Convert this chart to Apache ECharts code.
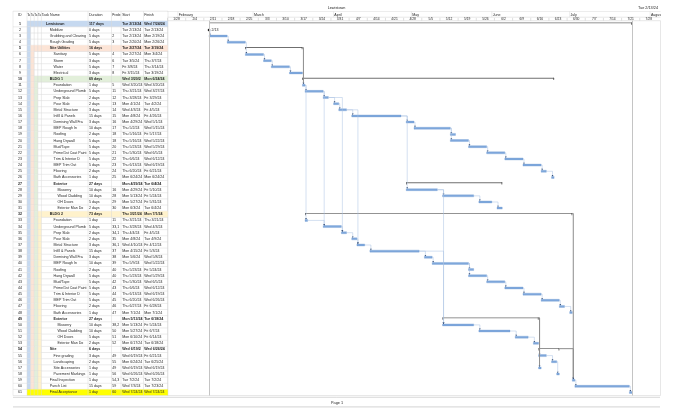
<!DOCTYPE html>
<html><head><meta charset="utf-8">
<script src="https://cdn.jsdelivr.net/npm/echarts@6/dist/echarts.min.js"></script>
<style>html,body{margin:0;padding:0;background:#fff}#c{width:680px;height:420px}</style>
</head><body><div id="c"></div>
<script>
// ---------------- DATA ----------------
const taskNames = ['Lewistown','Mobilize','Grubbing and Clearing','Rough Grading','Site Utilities','Sanitary','Storm','Water','Electrical','BLDG 1',
'Foundation','Underground Plumbing','Prep Slab','Pour Slab','Metal Structure','Infill & Panels','Demising Wall Frame','MEP Rough In','Roofing','Hang Drywall',
'Mud/Tape','Prime/1st Coat Paint','Trim & Interior Doors','MEP Trim Out','Flooring','Bath Accessories','Exterior','Masonry','Wood Cladding','OH Doors',
'Exterior Man Doors','BLDG 2','Foundation','Underground Plumbing','Prep Slab','Pour Slab','Metal Structure','Infill & Panels','Demising Wall Frame','MEP Rough In',
'Roofing','Hang Drywall','Mud/Tape','Prime/1st Coat Paint','Trim & Interior Doors','MEP Trim Out','Flooring','Bath Accessories','Exterior','Masonry',
'Wood Cladding','OH Doors','Exterior Man Doors','Site','Fine grading','Landscaping','Site Accessories & Signage','Pavement Markings','Final Inspection','Punch List',
'Final Acceptance'];
const durations = ['117 days','0 days','5 days','5 days','16 days','5 days','3 days','5 days','3 days','69 days',
'1 day','5 days','2 days','2 days','3 days','15 days','3 days','10 days','2 days','5 days',
'5 days','5 days','5 days','5 days','2 days','1 day','27 days','10 days','10 days','5 days',
'2 days','73 days','1 day','5 days','2 days','2 days','3 days','15 days','3 days','10 days',
'2 days','5 days','5 days','5 days','5 days','5 days','2 days','1 day','27 days','10 days',
'10 days','5 days','2 days','6 days','3 days','2 days','1 day','1 day','1 day','15 days',
'1 day'];
const predecessors = ['','','2','3','','4','6','7','8','',
'5','11','12','13','14','15','16','17','18','18',
'20','21','22','23','24','25','','16','28','29',
'30','','11','33,12','34,13','35','36,15','37','38','39',
'40','40','42','43','44','45','46','47','','38,28',
'50','51','52','','49','55','49','56','54,32','59',
'60'];
const startDates = ['Tue 2/13/24','Tue 2/13/24','Tue 2/13/24','Tue 2/20/24','Tue 2/27/24','Tue 2/27/24','Tue 3/5/24','Fri 3/8/24','Fri 3/15/24','Wed 3/20/24',
'Wed 3/20/24','Thu 3/21/24','Thu 3/28/24','Mon 4/1/24','Wed 4/3/24','Mon 4/8/24','Mon 4/29/24','Thu 5/2/24','Thu 5/16/24','Thu 5/16/24',
'Thu 5/23/24','Thu 5/30/24','Thu 6/6/24','Thu 6/13/24','Thu 6/20/24','Mon 6/24/24','Mon 4/29/24','Mon 4/29/24','Mon 5/13/24','Mon 5/27/24',
'Mon 6/3/24','Thu 3/21/24','Thu 3/21/24','Thu 3/28/24','Thu 4/4/24','Mon 4/8/24','Wed 4/10/24','Mon 4/15/24','Mon 5/6/24','Thu 5/9/24',
'Thu 5/23/24','Thu 5/23/24','Thu 5/30/24','Thu 6/6/24','Thu 6/13/24','Thu 6/20/24','Thu 6/27/24','Mon 7/1/24','Mon 5/13/24','Mon 5/13/24',
'Mon 5/27/24','Mon 6/10/24','Mon 6/17/24','Wed 6/19/24','Wed 6/19/24','Mon 6/24/24','Wed 6/19/24','Wed 6/26/24','Tue 7/2/24','Wed 7/3/24',
'Wed 7/24/24'];
const finishDates = ['Wed 7/24/24','Tue 2/13/24','Mon 2/19/24','Mon 2/26/24','Tue 3/19/24','Mon 3/4/24','Thu 3/7/24','Thu 3/14/24','Tue 3/19/24','Mon 6/24/24',
'Wed 3/20/24','Wed 3/27/24','Fri 3/29/24','Tue 4/2/24','Fri 4/5/24','Fri 4/26/24','Wed 5/1/24','Wed 5/15/24','Fri 5/17/24','Wed 5/22/24',
'Wed 5/29/24','Wed 6/5/24','Wed 6/12/24','Wed 6/19/24','Fri 6/21/24','Mon 6/24/24','Tue 6/4/24','Fri 5/10/24','Fri 5/24/24','Fri 5/31/24',
'Tue 6/4/24','Mon 7/1/24','Thu 3/21/24','Wed 4/3/24','Fri 4/5/24','Tue 4/9/24','Fri 4/12/24','Fri 5/3/24','Wed 5/8/24','Wed 5/22/24',
'Fri 5/24/24','Wed 5/29/24','Wed 6/5/24','Wed 6/12/24','Wed 6/19/24','Wed 6/26/24','Fri 6/28/24','Mon 7/1/24','Tue 6/18/24','Fri 5/24/24',
'Fri 6/7/24','Fri 6/14/24','Tue 6/18/24','Wed 6/26/24','Fri 6/21/24','Tue 6/25/24','Wed 6/19/24','Wed 6/26/24','Tue 7/2/24','Tue 7/23/24',
'Wed 7/24/24'];
const outlineLevels = [0,1,1,1,1,2,2,2,2,1,
2,2,2,2,2,2,2,2,2,2,
2,2,2,2,2,2,2,3,3,3,
3,1,2,2,2,2,2,2,2,2,
2,2,2,2,2,2,2,2,2,3,
3,3,3,1,2,2,2,2,1,1,
1];
const taskTypes = ['S','M','T','T','S','T','T','T','T','S',
'T','T','T','T','T','T','T','T','T','T',
'T','T','T','T','T','T','S','T','T','T',
'T','S','T','T','T','T','T','T','T','T',
'T','T','T','T','T','T','T','T','S','T',
'T','T','T','S','T','T','T','T','T','T',
'T'];
const bandRows = [1,5,10,32];      // highlighted summary rows (IDs)
const finalRow = 61;
const tableHeaders = ['ID','Ta','Ta','Ta','Ta','Task Name','Duration','Predecessors','Start','Finish'];
const monthLabels = ['February','March','April','May','June','July','August'];
const monthStarts = ['2/1/24','3/1/24','4/1/24','5/1/24','6/1/24','7/1/24','8/1/24'];
const weekLabels = ['1/28','2/4','2/11','2/18','2/25','3/3','3/10','3/17','3/24','3/31','4/7','4/14','4/21','4/28',
'5/5','5/12','5/19','5/26','6/2','6/9','6/16','6/23','6/30','7/7','7/14','7/21','7/28'];
const projectTitle = 'Lewistown';
const statusDate = 'Tue 2/13/24';
const pageLabel = 'Page 1';

// ---------------- HELPERS ----------------
const ORIGIN = Date.UTC(2024,0,28);
function dayOf(s){
  const p = s.indexOf(' ')>=0 ? s.split(' ')[1] : s;
  const a = p.split('/').map(Number);
  const yr = a.length>2 ? (a[2]<100 ? 2000+a[2] : a[2]) : 2024;
  return (Date.UTC(yr, a[0]-1, a[1]) - ORIGIN)/864e5;
}
const N = taskNames.length;
const ids = taskNames.map((_,i)=>String(i+1));
const startDay = startDates.map(dayOf);
const endDay = finishDates.map((f,i)=> taskTypes[i]==='M' ? startDay[i] : dayOf(f)+1);
const links = [];
predecessors.forEach((p,i)=>{ if(!p) return; p.split(',').forEach(q=>links.push([Number(q)-1,i])); });

const FONT = 'Liberation Sans, Arial, sans-serif';
const FS = 3.6;
const TXT = '#262626';
const COL = [0,14,17.6,21.2,24.8,28.4,75,98.5,108,130.5,155];
const bandColors = ['#C6D9F0','#FCE4D6','#E2EFDA','#FFF2CC'];
const finalColor = '#FFFF00';
const gridLine = '#D9D9D9';
const ROWH = 6.145, TOP = 20.7;

// ---------------- RENDERERS ----------------
function tableRow(params, api){
  const i = params.dataIndex, id = i+1;
  const yc = api.coord([0,i])[1];
  const h = api.size([0,1])[1];
  const top = yc - h/2, bot = yc + h/2;
  const X = v => api.coord([v,i])[0];
  const ch = [];
  for(let k=0;k<4;k++){
    if(id > bandRows[k]) ch.push({type:'rect',shape:{x:X(COL[1+k]),y:top,width:X(COL[2+k])-X(COL[1+k]),height:h},style:{fill:bandColors[k]}});
    if(id === bandRows[k]) ch.push({type:'rect',shape:{x:X(COL[1+k]),y:top,width:X(COL[10])-X(COL[1+k]),height:h},style:{fill:bandColors[k]}});
  }
  if(id === finalRow) ch.push({type:'rect',shape:{x:X(COL[1]),y:top,width:X(COL[10])-X(COL[1]),height:h},style:{fill:finalColor}});
  COL.forEach(c=>ch.push({type:'line',shape:{x1:X(c),y1:top,x2:X(c),y2:bot},style:{stroke:gridLine,lineWidth:0.5}}));
  ch.push({type:'line',shape:{x1:X(0),y1:bot,x2:X(155),y2:bot},style:{stroke:gridLine,lineWidth:0.5}});
  const bold = taskTypes[i]==='S' ? 'bold' : 'normal';
  const t = (text,x,w,align) => ({type:'text',style:{text:text,x:x,y:yc,align:align||'left',verticalAlign:'middle',
      font:bold+' '+FS+'px '+FONT,fill:TXT,width:w,overflow:w?'truncate':'none',ellipsis:''}});
  ch.push(t(ids[i],X(7),0,'center'));
  const nx = X(33 + outlineLevels[i]*3.8);
  ch.push(t(taskNames[i],nx,X(COL[6])-nx-0.3));
  ch.push(t(durations[i],X(76),X(COL[7])-X(76)-0.2));
  ch.push(t(predecessors[i],X(99.3),9.6));
  ch.push(t(startDates[i],X(109.2),21.4));
  ch.push(t(finishDates[i],X(131.2),23.5));
  return {type:'group',children:ch};
}
function tableHeader(params, api){
  const X = v => api.coord([v,0])[0];
  const Y = v => api.coord([0,v])[1];
  const ch = [];
  ch.push({type:'line',shape:{x1:X(0),y1:Y(0.2),x2:X(155),y2:Y(0.2)},style:{stroke:gridLine,lineWidth:0.6}});
  COL.forEach(c=>ch.push({type:'line',shape:{x1:X(c),y1:Y(0),x2:X(c),y2:Y(9.7)},style:{stroke:gridLine,lineWidth:0.5}}));
  const pos = [[5,'left'],[COL[1]+0.15,'left'],[COL[2]+0.15,'left'],[COL[3]+0.15,'left'],[COL[4]+0.15,'left'],[COL[5]+0.3,'left'],[76,'left'],[99.3,'left'],[109.2,'left'],[131.2,'left']];
  tableHeaders.forEach((h,k)=>{
    const w = k===7 ? 9.9 : 0;
    const fs = (k>=1 && k<=4) ? 2.9 : (k===7 ? 3.1 : FS);
    ch.push({type:'text',style:{text:h,x:X(pos[k][0]),y:Y(3.8),align:pos[k][1],verticalAlign:'middle',font:fs+'px '+FONT,fill:TXT,width:w,overflow:w?'truncate':'none',ellipsis:''}});
  });
  return {type:'group',children:ch};
}
function ganttHeader(params, api){
  const X = v => api.coord([v,0])[0];
  const Y = v => api.coord([0,v])[1];
  const ch = [];
  [0.3,6.2].forEach(v=>ch.push({type:'line',shape:{x1:X(0),y1:Y(v),x2:X(190),y2:Y(v)},style:{stroke:gridLine,lineWidth:0.6}}));
  monthStarts.forEach((m,k)=>{
    const d = dayOf(m);
    ch.push({type:'line',shape:{x1:X(d),y1:Y(0.3),x2:X(d),y2:Y(6.2)},style:{stroke:gridLine,lineWidth:0.5}});
    ch.push({type:'text',style:{text:monthLabels[k],x:X(d)+0.8,y:Y(3.6),verticalAlign:'middle',font:FS+'px '+FONT,fill:TXT}});
  });
  weekLabels.forEach(w=>{
    const d = dayOf(w);
    ch.push({type:'line',shape:{x1:X(d),y1:Y(6.9),x2:X(d),y2:Y(9.7)},style:{stroke:'#BFBFBF',lineWidth:0.5}});
    ch.push({type:'text',style:{text:w,x:X(d+3.5),y:Y(8.2),align:'center',verticalAlign:'middle',font:'3.3px '+FONT,fill:TXT}});
  });
  return {type:'group',children:ch};
}
function barItem(params, api){
  const i = params.dataIndex;
  const p0 = api.coord([startDay[i],i]), p1 = api.coord([endDay[i],i]);
  const y = p0[1], type = taskTypes[i];
  if(type==='M'){
    const x = p0[0], r = 1.5;
    const lab = startDates[i].split(' ')[1].split('/').slice(0,2).join('/');
    return {type:'group',children:[
      {type:'polygon',shape:{points:[[x,y-r],[x+r,y],[x,y+r],[x-r,y]]},style:{fill:'#000'}},
      {type:'text',style:{text:lab,x:x+2.6,y:y,verticalAlign:'middle',font:FS+'px '+FONT,fill:TXT}}
    ]};
  }
  if(type==='S'){
    const x0 = p0[0], x1 = p1[0];
    return {type:'group',children:[
      {type:'rect',shape:{x:x0,y:y-1.3,width:x1-x0,height:0.9},style:{fill:'#6F6F6F'}},
      {type:'rect',shape:{x:x0,y:y-1.3,width:0.7,height:2.3},style:{fill:'#3A3A3A'}},
      {type:'rect',shape:{x:x1-0.7,y:y-1.3,width:0.7,height:2.3},style:{fill:'#3A3A3A'}}
    ]};
  }
  return {type:'rect',shape:{x:p0[0],y:y-1,width:p1[0]-p0[0],height:2},style:{fill:'#7FA8DC',stroke:'#6A95CE',lineWidth:0.3}};
}
function linkItem(params, api){
  const l = links[params.dataIndex], a = l[0], b = l[1];
  const xe = api.coord([endDay[a],a])[0];
  const yp = api.coord([0,a])[1] - (taskTypes[a]==='S' ? 0.8 : 0);
  const xs = api.coord([startDay[b],b])[0];
  const ys = api.coord([0,b])[1];
  const vx = Math.max(xs, xe) + 1;
  const ytop = ys - 1;
  const sum = taskTypes[a]==='S';
  return {type:'group',children:[
    {type:'polyline',shape:{points:[[xe,yp],[vx,yp],[vx,ytop-1.2]]},style:{stroke:sum?'#8C8C8C':'#A8C1E2',lineWidth:sum?1:0.5,fill:null}},
    {type:'polygon',shape:{points:[[vx-0.9,ytop-1.4],[vx+0.9,ytop-1.4],[vx,ytop]]},style:{fill:'#2B4670'}}
  ]};
}

// ---------------- CHART ----------------
const chart = echarts.init(document.getElementById('c'));
const gridH = N*ROWH;
const txt = (text,x,y,align) => ({type:'text',x:x,y:y,style:{text:text,align:align,verticalAlign:'middle',font:'3.8px '+FONT,fill:TXT}});
chart.setOption({
  animation:false,
  backgroundColor:'#fff',
  graphic:[
    txt(projectTitle,336.5,8.3,'center'),
    txt(statusDate,658,8.3,'right'),
    txt(pageLabel,337,402.7,'center'),
    {type:'line',shape:{x1:13,y1:397.3,x2:660,y2:397.3},style:{stroke:'#BDBDBD',lineWidth:0.6}},
    {type:'line',shape:{x1:13,y1:406.8,x2:660,y2:406.8},style:{stroke:'#DCDCDC',lineWidth:1.3}}
  ],
  grid:[
    {left:13,top:TOP,width:155,height:gridH},
    {left:167.5,top:TOP,width:493,height:gridH,show:true,borderColor:'#D6D6D6',borderWidth:0.6,backgroundColor:'transparent'},
    {left:167.5,top:11,width:493,height:9.7},
    {left:13,top:11,width:155,height:9.7}
  ],
  xAxis:[
    {gridIndex:0,type:'value',min:0,max:155,show:false},
    {gridIndex:1,type:'value',min:0,max:190,show:false},
    {gridIndex:2,type:'value',min:0,max:190,show:false},
    {gridIndex:3,type:'value',min:0,max:155,show:false}
  ],
  yAxis:[
    {gridIndex:0,type:'category',data:ids,inverse:true,show:false},
    {gridIndex:1,type:'category',data:ids,inverse:true,show:false},
    {gridIndex:2,type:'value',min:0,max:9.7,inverse:true,show:false},
    {gridIndex:3,type:'value',min:0,max:9.7,inverse:true,show:false}
  ],
  series:[
    {type:'custom',xAxisIndex:0,yAxisIndex:0,renderItem:tableRow,data:ids.map((_,i)=>[0,i]),silent:true},
    {type:'custom',xAxisIndex:3,yAxisIndex:3,renderItem:tableHeader,data:[[0,0]],silent:true},
    {type:'custom',xAxisIndex:2,yAxisIndex:2,renderItem:ganttHeader,data:[[0,0]],silent:true,clip:true},
    {type:'custom',xAxisIndex:1,yAxisIndex:1,renderItem:barItem,data:ids.map((_,i)=>[startDay[i],i]),silent:true,clip:true,z:3,
     markLine:{silent:true,symbol:'none',label:{show:false},lineStyle:{color:'#C4C4C4',width:1,type:'solid'},
       data:[{xAxis:startDay[0]},{xAxis:endDay[0]}]}},
    {type:'custom',xAxisIndex:1,yAxisIndex:1,renderItem:linkItem,data:links.map(l=>[startDay[l[1]],l[1]]),silent:true,clip:true,z:4}
  ]
});
</script></body></html>
